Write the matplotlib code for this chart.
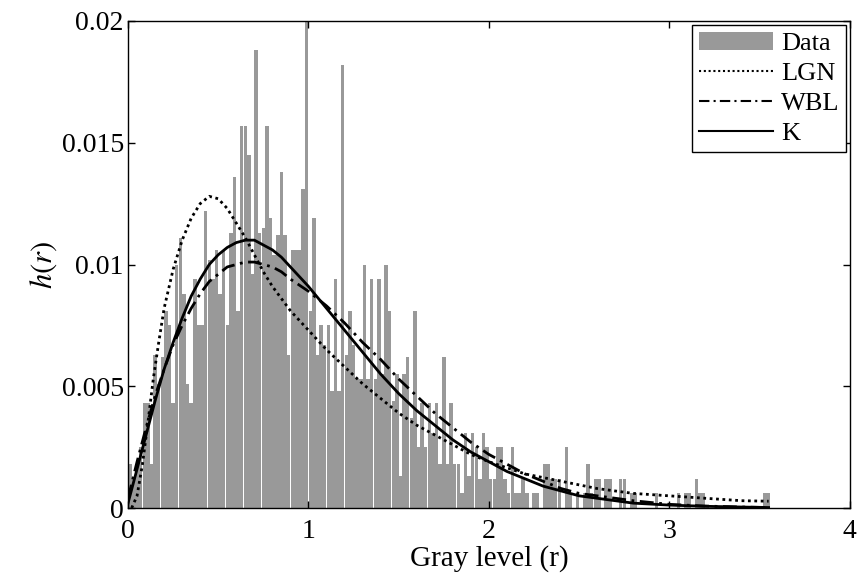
import numpy as np
import matplotlib
matplotlib.use("Agg")
import matplotlib.pyplot as plt
from matplotlib.patches import Patch
from matplotlib.lines import Line2D

plt.rcParams['font.family'] = ['Liberation Serif', 'DejaVu Serif']
plt.rcParams['mathtext.fontset'] = 'stix'

# histogram: bin width 0.02, first bin centred at 0.01
bin_width = 0.02
hist_heights = [
    # 0.01 .. 0.49
    0.0018, 0.0012, 0.0018, 0.0025, 0.0043, 0.0043, 0.0018, 0.0063, 0.0051, 0.0062,
    0.0081, 0.0075, 0.0043, 0.0100, 0.0111, 0.0088, 0.0051, 0.0043, 0.0094, 0.0075,
    0.0075, 0.0122, 0.0102, 0.0094, 0.0106,
    # 0.51 .. 0.99
    0.0088, 0.0106, 0.0075, 0.0113, 0.0136, 0.0081, 0.0157, 0.0157, 0.0145, 0.0096,
    0.0188, 0.0113, 0.0115, 0.0157, 0.0119, 0.0104, 0.0112, 0.0138, 0.0112, 0.0063,
    0.0106, 0.0106, 0.0106, 0.0131, 0.0200,
    # 1.01 .. 1.49
    0.0081, 0.0119, 0.0063, 0.0075, 0.0067, 0.0075, 0.0048, 0.0094, 0.0048, 0.0182,
    0.0063, 0.0081, 0.0067, 0.0053, 0.0053, 0.0100, 0.0053, 0.0094, 0.0053, 0.0094,
    0.0055, 0.0100, 0.0081, 0.0044, 0.0055,
    # 1.51 .. 1.99
    0.0013, 0.0055, 0.0062, 0.0037, 0.0081, 0.0025, 0.0043, 0.0025, 0.0043, 0.0031,
    0.0043, 0.0018, 0.0062, 0.0018, 0.0043, 0.0018, 0.0018, 0.0006, 0.0031, 0.0013,
    0.0031, 0.0025, 0.0012, 0.0031, 0.0025,
    # 2.01 .. 2.49
    0.0012, 0.0012, 0.0025, 0.0025, 0.0012, 0.0006, 0.0025, 0.0006, 0.0006, 0.0012,
    0.0006, 0.0000, 0.0006, 0.0006, 0.0000, 0.0018, 0.0018, 0.0012, 0.0012, 0.0012,
    0.0000, 0.0025, 0.0006, 0.0000, 0.0006,
    # 2.51 .. 2.99
    0.0000, 0.0006, 0.0018, 0.0006, 0.0012, 0.0012, 0.0000, 0.0012, 0.0012, 0.0000,
    0.0000, 0.0012, 0.0012, 0.0000, 0.0006, 0.0006, 0.0000, 0.0000, 0.0000, 0.0000,
    0.0000, 0.0006, 0.0000, 0.0000, 0.0000,
    # 3.01 .. 3.55
    0.0000, 0.0000, 0.0006, 0.0000, 0.0006, 0.0006, 0.0000, 0.0012, 0.0006, 0.0006,
    0.0000, 0.0000, 0.0000, 0.0000, 0.0000, 0.0000, 0.0000, 0.0000, 0.0000, 0.0000,
    0.0000, 0.0000, 0.0000, 0.0000, 0.0000, 0.0000, 0.0006, 0.0006,
]
hist_centers = 0.01 + bin_width * np.arange(len(hist_heights))

# fitted pdfs
lgn_x = [0.02, 0.05, 0.08, 0.11, 0.14, 0.17, 0.20, 0.25, 0.30, 0.35, 0.40, 0.45,
         0.50, 0.55, 0.60, 0.65, 0.70, 0.75, 0.80, 0.90, 1.0, 1.1, 1.2, 1.3, 1.4,
         1.5, 1.6, 1.7, 1.8, 1.9, 2.0, 2.2, 2.4, 2.6, 2.8, 3.0, 3.2, 3.4, 3.55]
lgn_y = [0.0, 0.0005, 0.0018, 0.0035, 0.0053, 0.0068, 0.0082, 0.0098, 0.0110,
         0.0119, 0.0125, 0.0128, 0.0127, 0.0123, 0.0117, 0.0111, 0.0104, 0.0097,
         0.0091, 0.0081, 0.0073, 0.0065, 0.0058, 0.0051, 0.0045, 0.0039, 0.0034,
         0.0030, 0.0026, 0.0022, 0.0019, 0.0014, 0.0011, 0.0008, 0.0006, 0.0005,
         0.0004, 0.0003, 0.00028]

wbl_x = [0.0, 0.05, 0.10, 0.15, 0.20, 0.25, 0.30, 0.35, 0.40, 0.45, 0.50, 0.55,
         0.60, 0.65, 0.70, 0.75, 0.80, 0.85, 0.90, 1.0, 1.1, 1.2, 1.3, 1.4, 1.5,
         1.6, 1.7, 1.8, 1.9, 2.0, 2.1, 2.2, 2.3, 2.4, 2.5, 2.6, 2.8, 3.0, 3.2,
         3.4, 3.55]
wbl_y = [0.0004, 0.0019, 0.0033, 0.0046, 0.0057, 0.0067, 0.0075, 0.0082, 0.0088,
         0.0093, 0.0096, 0.0099, 0.0100, 0.0101, 0.0101, 0.0100, 0.0099, 0.0097,
         0.0094, 0.0089, 0.0083, 0.0076, 0.0068, 0.0061, 0.0053, 0.0046, 0.0039,
         0.0033, 0.0027, 0.0022, 0.0018, 0.0014, 0.0011, 0.0008, 0.0006, 0.0005,
         0.0003, 0.00015, 0.00008, 0.00004, 0.00002]

k_x = [0.0, 0.05, 0.10, 0.15, 0.20, 0.25, 0.30, 0.35, 0.40, 0.45, 0.50, 0.55,
       0.60, 0.65, 0.70, 0.75, 0.80, 0.85, 0.90, 1.0, 1.1, 1.2, 1.3, 1.4, 1.5,
       1.6, 1.7, 1.8, 1.9, 2.0, 2.1, 2.2, 2.3, 2.4, 2.5, 2.6, 2.8, 3.0, 3.2,
       3.4, 3.55]
k_y = [0.0002, 0.0016, 0.0030, 0.0044, 0.0057, 0.0068, 0.0078, 0.0087, 0.0094,
       0.0100, 0.0104, 0.0107, 0.0109, 0.0110, 0.0110, 0.0108, 0.0106, 0.0103,
       0.0099, 0.0091, 0.0082, 0.0073, 0.0064, 0.0055, 0.0047, 0.0040, 0.0034,
       0.0028, 0.0023, 0.0019, 0.0015, 0.0012, 0.0009, 0.0007, 0.0005, 0.0004,
       0.0002, 0.00012, 0.00007, 0.00004, 0.00002]

gray = '#999999'
dotted = (0, (1, 1.3))
dashdot = (0, (5, 2, 1, 2))

fig = plt.figure(figsize=(8.61, 5.75), dpi=100)
ax = fig.add_axes([0.1487, 0.1165, 0.8383, 0.847])

ax.bar(hist_centers, hist_heights, width=bin_width * 0.95, color=gray,
       edgecolor='none', zorder=1)
ax.plot(lgn_x, lgn_y, color='black', linestyle=dotted, linewidth=2, zorder=3)
ax.plot(wbl_x, wbl_y, color='black', linestyle=dashdot, linewidth=2, zorder=3)
ax.plot(k_x, k_y, color='black', linestyle='-', linewidth=2, zorder=3)

ax.set_xlim(0, 4)
ax.set_ylim(0, 0.02)
ax.set_xticks([0, 1, 2, 3, 4])
ax.set_yticks([0, 0.005, 0.01, 0.015, 0.02])
ax.set_yticklabels(['0', '0.005', '0.01', '0.015', '0.02'])
ax.tick_params(direction='in', top=True, right=True, length=5, width=1,
               labelsize=20, pad=3)
ax.tick_params(axis='x', pad=8)
for s in ax.spines.values():
    s.set_linewidth(1)

ax.set_xlabel('Gray level (r)', fontsize=21, labelpad=1)
ax.set_ylabel(r'$h(r)$', fontsize=22, labelpad=2)

handles = [Patch(facecolor=gray, edgecolor='none'),
           Line2D([], [], color='black', linestyle=dotted, linewidth=1.5),
           Line2D([], [], color='black', linestyle=dashdot, linewidth=1.5),
           Line2D([], [], color='black', linestyle='-', linewidth=1.5)]
leg = ax.legend(handles, ['Data', 'LGN', 'WBL', 'K'], loc='upper right',
                fontsize=19, frameon=True, fancybox=False, framealpha=1,
                edgecolor='black', borderaxespad=0.15, handlelength=2.8,
                handletextpad=0.3, labelspacing=0.25, borderpad=0.25)
leg.get_frame().set_linewidth(1)

fig.savefig('out.png', dpi=100)
